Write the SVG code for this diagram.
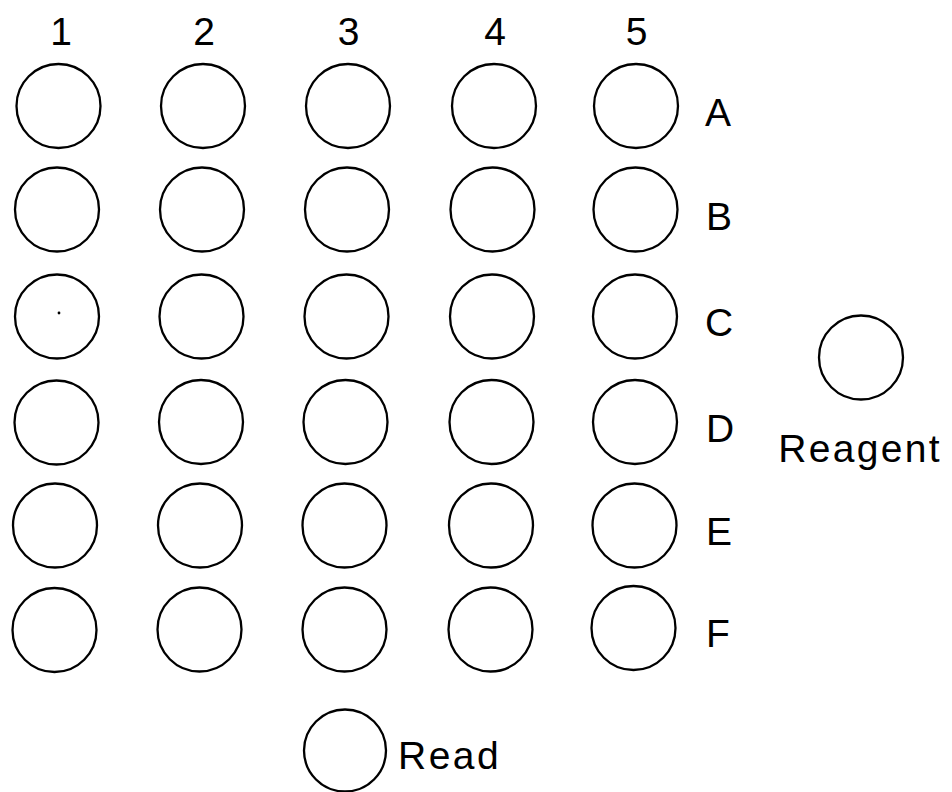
<svg xmlns="http://www.w3.org/2000/svg" width="952" height="792" viewBox="0 0 952 792">
<style>
.w{fill:none;stroke:#000;stroke-width:2.3}
.t{font-family:"Liberation Sans",Arial,sans-serif;font-size:39px;fill:#000}
.c{text-anchor:middle}
</style>
<rect width="952" height="792" fill="#fff"/>
<g id="col-labels">
<text class="t c" x="61" y="45">1</text>
<text class="t c" x="204" y="45">2</text>
<text class="t c" x="348.5" y="45">3</text>
<text class="t c" x="495" y="45">4</text>
<text class="t c" x="636.5" y="45">5</text>
</g>
<g id="row-labels">
<text class="t" x="705" y="126">A</text>
<text class="t" x="706" y="230">B</text>
<text class="t" x="705" y="336">C</text>
<text class="t" x="706" y="442">D</text>
<text class="t" x="706" y="545">E</text>
<text class="t" x="706" y="647">F</text>
</g>
<g id="col1">
<circle id="A1" class="w" cx="58.5" cy="106" r="42"/>
<circle id="B1" class="w" cx="57" cy="209.5" r="42"/>
<circle id="C1" class="w" cx="57" cy="316.5" r="42"/>
<circle cx="59" cy="313" r="1.4" fill="#000"/>
<circle id="D1" class="w" cx="56.5" cy="422.5" r="42"/>
<circle id="E1" class="w" cx="55" cy="525.5" r="42"/>
<circle id="F1" class="w" cx="54.5" cy="630" r="42"/>
</g>
<g id="col2">
<circle id="A2" class="w" cx="203" cy="106" r="42"/>
<circle id="B2" class="w" cx="202" cy="209.5" r="42"/>
<circle id="C2" class="w" cx="201.5" cy="316.5" r="42"/>
<circle id="D2" class="w" cx="201" cy="422" r="42"/>
<circle id="E2" class="w" cx="200" cy="525.5" r="42"/>
<circle id="F2" class="w" cx="199.5" cy="629.5" r="42"/>
</g>
<g id="col3">
<circle id="A3" class="w" cx="348" cy="106" r="42"/>
<circle id="B3" class="w" cx="347" cy="209.5" r="42"/>
<circle id="C3" class="w" cx="346.5" cy="316.5" r="42"/>
<circle id="D3" class="w" cx="345.5" cy="422" r="42"/>
<circle id="E3" class="w" cx="344.5" cy="525.5" r="42"/>
<circle id="F3" class="w" cx="344.5" cy="629.5" r="42"/>
</g>
<g id="col4">
<circle id="A4" class="w" cx="494" cy="106" r="42"/>
<circle id="B4" class="w" cx="492.5" cy="209.5" r="42"/>
<circle id="C4" class="w" cx="492" cy="316.5" r="42"/>
<circle id="D4" class="w" cx="491.5" cy="422" r="42"/>
<circle id="E4" class="w" cx="491" cy="525.5" r="42"/>
<circle id="F4" class="w" cx="490.5" cy="629.5" r="42"/>
</g>
<g id="col5">
<circle id="A5" class="w" cx="636" cy="106" r="42"/>
<circle id="B5" class="w" cx="635.5" cy="209.5" r="42"/>
<circle id="C5" class="w" cx="635" cy="316.5" r="42"/>
<circle id="D5" class="w" cx="635" cy="422" r="42"/>
<circle id="E5" class="w" cx="634.5" cy="525.5" r="42"/>
<circle id="F5" class="w" cx="633.5" cy="628" r="42"/>
</g>
<g id="reagent">
<circle class="w" cx="861" cy="357.5" r="42"/>
<text class="t c" x="860" y="462" font-size="40" letter-spacing="2.3">Reagent</text>
</g>
<g id="read">
<circle class="w" cx="345" cy="750.5" r="41"/>
<text class="t" x="398" y="769" letter-spacing="2.5">Read</text>
</g>
</svg>
